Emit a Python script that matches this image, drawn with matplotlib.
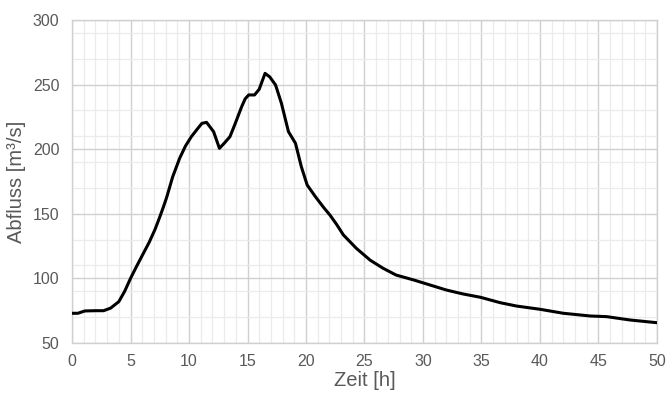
import numpy as np
import matplotlib.pyplot as plt
from matplotlib.ticker import MultipleLocator, FixedLocator

plt.rcParams['font.family'] = ['Liberation Sans', 'DejaVu Sans']

zeit = [0, 0.5, 1.1, 2.0, 2.7, 3.3, 4.0, 4.5, 5.0, 5.5, 6.1, 6.6, 7.1, 7.5,
        7.8, 8.1, 8.6, 9.2, 9.7, 10.2, 10.7, 11.1, 11.5, 12.1, 12.6, 13.0,
        13.5, 13.9, 14.5, 14.8, 15.1, 15.6, 16.0, 16.5, 16.9, 17.4, 17.9,
        18.5, 19.1, 19.6, 20.1, 20.8, 21.5, 22.05, 22.6, 23.2, 24.3, 25.5,
        26.6, 27.7, 29.2, 30.6, 32.0, 33.4, 34.9, 36.6, 38.0, 40.0, 42.0,
        44.3, 45.7, 47.7, 50.0]
abfluss = [73, 73, 74.8, 75, 75, 77, 82, 90, 100, 109, 119.4, 128, 138,
           147.5, 155, 163, 178.5, 193, 202.5, 209.7, 215.5, 220, 220.8,
           213.6, 200.7, 204.5, 209.7, 218.7, 232.9, 239, 242, 242, 246.4,
           258.7, 256, 249.7, 235.5, 213.6, 204.6, 186.5, 172.3, 163.3, 155,
           149, 142, 133.6, 123.3, 114, 107.8, 102.6, 98.8, 94.9, 91, 88,
           85.4, 81.2, 78.6, 76.1, 73, 70.9, 70.4, 67.8, 65.7]

text_col = '#595959'

fig = plt.figure(figsize=(6.68, 3.98), dpi=100)
ax = fig.add_axes([0.1078, 0.1382, 0.8757, 0.8115])

ax.plot(zeit, abfluss, color='black', lw=2.2, solid_joinstyle='round',
        solid_capstyle='round', zorder=3)

ax.set_xlim(0, 50)
ax.set_ylim(50, 300)
ax.xaxis.set_major_locator(MultipleLocator(5))
ax.xaxis.set_minor_locator(MultipleLocator(1))
ax.yaxis.set_major_locator(MultipleLocator(50))
ax.yaxis.set_minor_locator(FixedLocator(np.arange(70, 300, 20)))

ax.grid(which='major', color='#d0d0d0', lw=1.0)
ax.grid(which='minor', color='#ebebeb', lw=0.9)
ax.set_axisbelow(True)

for s in ax.spines.values():
    s.set_color('#d0d0d0')
    s.set_linewidth(1.0)

ax.tick_params(which='both', length=0, colors=text_col, labelsize=11.5)
ax.tick_params(axis='y', pad=9)
ax.tick_params(axis='x', pad=8)

ax.set_xlabel('Zeit [h]', color=text_col, fontsize=14.5, labelpad=1.5)
ax.set_ylabel('Abfluss [m³/s]', color=text_col, fontsize=14.5, labelpad=5)

fig.savefig('out.png', dpi=100)
